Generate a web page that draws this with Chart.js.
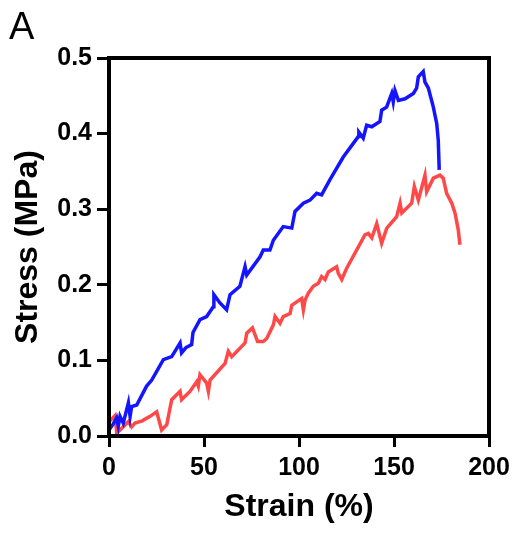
<!DOCTYPE html>
<html>
<head>
<meta charset="utf-8">
<script src="https://cdn.jsdelivr.net/npm/chart.js@4"></script>
<style>
  html, body { margin: 0; padding: 0; background: #fff; }
  #wrap { width: 517px; height: 533px; position: relative; }
</style>
</head>
<body>
<div id="wrap"><canvas id="myChart"></canvas></div>
<script>
// sample 1 (blue)
const blueStrain = [0, 2, 4.0, 4.9, 5.8, 7.5, 10.2, 11.1, 11.9, 14.6, 19.8, 22.5, 28.6, 33.0, 37.4, 38.2, 40.5, 43.5, 44.2, 47.9,
  51.4, 54.9, 55.2, 58.4, 61.9, 63.7, 68.9, 71.6, 72.5, 79.5, 81.2, 84.7, 86.5, 91.7, 96.2, 97.9, 102.3, 105.8, 109.3, 111.9,
  116.3, 123.3, 131.2, 131.5, 133.8, 135.6, 138.3, 142.6, 143.5, 146.1, 148.8, 149.6, 150.5, 152.3, 155.8, 160.2, 161.9, 162.8,
  165.4, 166.3, 168.1, 170.7, 172.5, 173.3, 173.8];
const blueStress = [0.008, 0.015, 0.024, 0.013, 0.026, 0.017, 0.044, 0.026, 0.039, 0.041, 0.066, 0.074, 0.101, 0.105, 0.123, 0.110, 0.117, 0.121, 0.137, 0.154,
  0.158, 0.171, 0.187, 0.176, 0.167, 0.187, 0.198, 0.224, 0.213, 0.237, 0.246, 0.246, 0.259, 0.277, 0.275, 0.297, 0.308, 0.312, 0.321, 0.319,
  0.339, 0.369, 0.396, 0.402, 0.394, 0.411, 0.409, 0.416, 0.431, 0.435, 0.453, 0.442, 0.457, 0.444, 0.446, 0.453, 0.460, 0.475,
  0.482, 0.468, 0.460, 0.435, 0.413, 0.391, 0.352];

// sample 2 (red)
const redStrain = [0.5, 3.2, 4.1, 5.8, 10.2, 11.9, 13.7, 17.5, 21.6, 25.1, 27.7, 30.4, 33.0, 37.4, 38.2, 42.6, 46.2, 47.0, 47.9,
  51.4, 52.3, 53.2, 61.1, 62.8, 64.6, 71.6, 72.5, 75.5, 78.2, 81.2, 83.0, 86.5, 87.4, 90.0, 91.7, 95.3, 96.2, 101.4, 102.3, 103.2,
  104.9, 107.5, 110.2, 111.9, 113.7, 115.4, 119.8, 120.7, 122.5, 125.1, 134.7, 136.5, 138.3, 140.9, 143.5, 146.2, 151.4, 153.2,
  154.1, 159.3, 160.7, 162.8, 166.3, 167.2, 170.7, 174.2, 175.9, 177.7, 180.4, 182.1, 183.8, 184.7];
const redStress = [0.020, 0.027, 0.004, 0.008, 0.019, 0.012, 0.017, 0.020, 0.026, 0.032, 0.008, 0.015, 0.048, 0.059, 0.048, 0.059, 0.072, 0.066, 0.081,
  0.070, 0.059, 0.074, 0.096, 0.112, 0.105, 0.123, 0.136, 0.143, 0.125, 0.125, 0.129, 0.147, 0.158, 0.149, 0.158, 0.162, 0.173, 0.182, 0.167, 0.180,
  0.189, 0.198, 0.202, 0.211, 0.207, 0.217, 0.224, 0.215, 0.207, 0.222, 0.266, 0.268, 0.262, 0.281, 0.255, 0.275, 0.290, 0.308,
  0.295, 0.308, 0.330, 0.312, 0.345, 0.323, 0.341, 0.345, 0.341, 0.321, 0.308, 0.295, 0.273, 0.253];

const xTicks = [0, 50, 100, 150, 200];
const yTicks = [0, 0.1, 0.2, 0.3, 0.4, 0.5];

const toPoints = (xs, ys) => xs.map((x, i) => ({ x: x, y: ys[i] }));

// box round the plot + panel letter
const framePlugin = {
  id: "frame",
  afterDatasetsDraw(chart) {
    const a = chart.chartArea;
    const c = chart.ctx;
    c.save();
    c.strokeStyle = "#000";
    c.lineWidth = 4;
    c.strokeRect(a.left, a.top, a.right - a.left, a.bottom - a.top);
    c.restore();
  },
  afterDraw(chart) {
    const c = chart.ctx;
    c.save();
    c.fillStyle = "#000";
    c.font = "38px 'Liberation Sans', Arial, sans-serif";
    c.textBaseline = "top";
    c.fillText("A", 9, 10);
    c.restore();
  },
};

const font = "'Liberation Sans', Arial, sans-serif";

new Chart(document.getElementById("myChart"), {
  type: "line",
  data: {
    datasets: [
      {
        label: "Sample 1",
        data: toPoints(blueStrain, blueStress),
        borderColor: "#1414ff",
        borderWidth: 3.5,
        pointRadius: 0,
        tension: 0,
      },
      {
        label: "Sample 2",
        data: toPoints(redStrain, redStress),
        borderColor: "#ff4848",
        borderWidth: 3.5,
        pointRadius: 0,
        tension: 0,
      },
    ],
  },
  options: {
    responsive: true,
    maintainAspectRatio: false,
    animation: false,
    layout: { padding: { top: 58, right: 28, bottom: 7, left: 5 } },
    plugins: { legend: { display: false }, tooltip: { enabled: false } },
    scales: {
      x: {
        type: "linear",
        min: 0,
        max: 200,
        afterBuildTicks: (s) => { s.ticks = xTicks.map((v) => ({ value: v })); },
        afterFit: (s) => { s.height = 533 - 436 - 7; },
        ticks: { color: "#000", font: { family: font, size: 25, weight: "bold" }, padding: 6, maxRotation: 0 },
        grid: { drawOnChartArea: false, drawTicks: true, tickLength: 11, tickWidth: 3, color: "#000" },
        border: { display: true, color: "#000", width: 4 },
        title: { display: true, text: "Strain (%)", color: "#000", font: { family: font, size: 32, weight: "bold" }, padding: { top: 0, bottom: 0 } },
      },
      y: {
        min: 0,
        max: 0.5,
        afterBuildTicks: (s) => { s.ticks = yTicks.map((v) => ({ value: v })); },
        afterFit: (s) => { s.width = 109 - 5; },
        ticks: { color: "#000", font: { family: font, size: 25, weight: "bold" }, padding: 5, callback: (v) => v.toFixed(1) },
        grid: { drawOnChartArea: false, drawTicks: true, tickLength: 12, tickWidth: 3, color: "#000" },
        border: { display: true, color: "#000", width: 4 },
        title: { display: true, text: "Stress (MPa)", color: "#000", font: { family: font, size: 32, weight: "bold" }, padding: { top: 4, bottom: 0 } },
      },
    },
  },
  plugins: [framePlugin],
});
</script>
</body>
</html>
